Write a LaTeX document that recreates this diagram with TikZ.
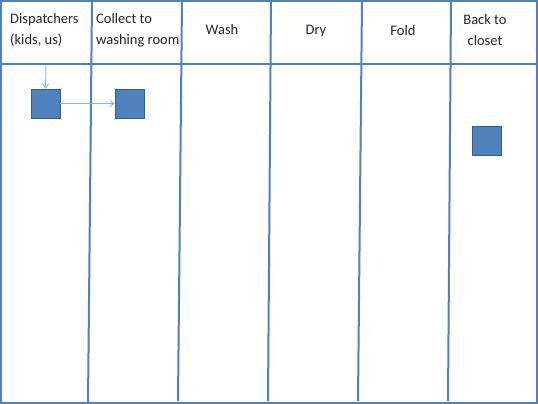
\documentclass[tikz,border=0pt]{standalone}
\usepackage{fontspec}
\setmainfont{Carlito}
\usetikzlibrary{arrows.meta}
\definecolor{lane}{HTML}{4F81BD}
\definecolor{boxfill}{HTML}{4F81BD}
\definecolor{boxline}{HTML}{385D8A}
\definecolor{arr}{HTML}{8EB4E3}
\tikzset{
  laneline/.style={draw=lane, line width=2pt},
  task/.style={draw=boxline, fill=boxfill, line width=0.8pt, minimum width=29pt, minimum height=29pt, inner sep=0pt},
  flow/.style={draw=arr, line width=0.9pt, -{Straight Barb[length=4pt,width=6pt]}},
  head/.style={font=\fontsize{14.5}{21}\selectfont, inner sep=0pt, text=black!85},
}
\begin{document}
\begin{tikzpicture}[x=1pt,y=-1pt]
\useasboundingbox (0,0) rectangle (538,404);
\fill[white] (0,0) rectangle (538,404);
\draw[draw=lane, line width=1.2pt] (1,1) rectangle (537,403);
% lane lines
\draw[laneline] (0,64) -- (538,64);
\draw[laneline] (92,1) -- (88,403);
\draw[laneline] (182,1) -- (178,401);
\draw[laneline] (271,1) -- (268,401);
\draw[laneline] (362,1) -- (358,401);
\draw[laneline] (451,1) -- (448,401);
% headers
\node[head, anchor=west, align=left] (h1) at (10,30) {Dispatchers\\(kids, us)};
\node[head, anchor=west, align=left] (h2) at (96,30) {Collect to\\washing room};
\node[head] (h3) at (222,30) {Wash};
\node[head] (h4) at (316,31) {Dry};
\node[head] (h5) at (403,31) {Fold};
\node[head, align=center] (h6) at (485,30) {Back to\\closet};
% tasks
\node[task] (b1) at (45.5,103.5) {};
\node[task] (b2) at (129.5,103.5) {};
\node[task] (b3) at (487,141) {};
\coordinate (s1) at (46,65);
\draw[flow] (s1) -- (b1.north);
\draw[flow] (b1.east) -- (b2.west);
\end{tikzpicture}
\end{document}
